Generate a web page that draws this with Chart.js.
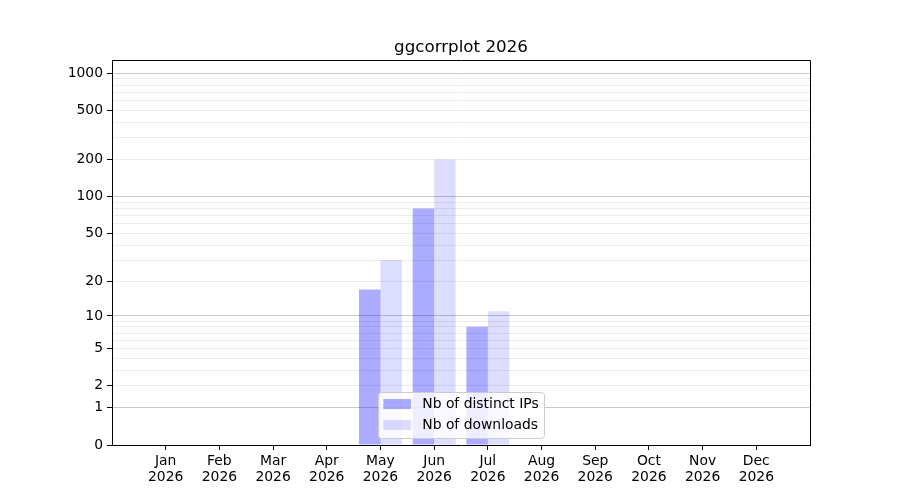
<!DOCTYPE html>
<html>
<head>
<meta charset="utf-8">
<title>ggcorrplot 2026</title>
<script src="https://cdn.jsdelivr.net/npm/chart.js@4/dist/chart.umd.min.js"></script>
<style>
  html, body { margin: 0; padding: 0; background: #fff; }
  #wrap { width: 900px; height: 500px; }
</style>
</head>
<body>
<div id="wrap"><canvas id="chart" width="900" height="500"></canvas></div>
<script>
// Data
const months = ['Jan', 'Feb', 'Mar', 'Apr', 'May', 'Jun', 'Jul', 'Aug', 'Sep', 'Oct', 'Nov', 'Dec'];
const year = '2026';
const distinctIPs = [0, 0, 0, 0, 17, 80, 8, 0, 0, 0, 0, 0];
const downloads = [0, 0, 0, 0, 30, 200, 11, 0, 0, 0, 0, 0];

// y axis ticks (log10(1 + x) scale)
const labeledTicks = [0, 1, 2, 5, 10, 20, 50, 100, 200, 500, 1000];
const majorTicks = [1, 10, 100, 1000];
const minorTicks = [3, 4, 6, 7, 8, 9, 30, 40, 60, 70, 80, 90, 300, 400, 600, 700, 800, 900];
const yMaxValue = 1274;

const toY = v => Math.log10(1 + v);
const fromY = y => Math.round(Math.pow(10, y) - 1);

const FONT = "'DejaVu Sans', sans-serif";

// title centred on the axes, plus top and right spines
const framePlugin = {
    id: 'frame',
    afterDraw(chart) {
        const { ctx, chartArea: a } = chart;
        ctx.save();
        ctx.strokeStyle = '#000';
        ctx.lineWidth = 1;
        ctx.beginPath();
        ctx.moveTo(Math.round(a.left) + 0.5, Math.round(a.top) + 0.5);
        ctx.lineTo(Math.round(a.right) + 0.5, Math.round(a.top) + 0.5);
        ctx.lineTo(Math.round(a.right) + 0.5, Math.round(a.bottom) + 0.5);
        ctx.stroke();

        ctx.fillStyle = '#000';
        ctx.font = '16.7px ' + FONT;
        ctx.textAlign = 'center';
        ctx.textBaseline = 'alphabetic';
        ctx.fillText('ggcorrplot ' + year, (a.left + a.right) / 2, a.top - 8.5);
        ctx.restore();
    }
};

// matplotlib-like legend, lower center inside the axes
const innerLegendPlugin = {
    id: 'innerLegend',
    afterDraw(chart) {
        const { ctx, chartArea: a } = chart;
        const fs = 13.9;
        const items = chart.data.datasets.map(ds => ({ text: ds.label, color: ds.backgroundColor }));
        ctx.save();
        ctx.font = fs + 'px ' + FONT;
        const textW = Math.max(...items.map(it => ctx.measureText(it.text).width));
        const pad = 0.4 * fs, handle = 2 * fs, gap = 0.8 * fs;
        const rowH = 21;
        const w = pad * 2 + handle + gap + textW;
        const h = 46;
        const x = (a.left + a.right) / 2 - w / 2;
        const y = a.bottom - 0.5 * fs - h;

        ctx.beginPath();
        ctx.roundRect(Math.round(x) + 0.5, Math.round(y) + 0.5, Math.round(w), Math.round(h), 3);
        ctx.fillStyle = 'rgba(255,255,255,0.8)';
        ctx.fill();
        ctx.strokeStyle = '#cccccc';
        ctx.lineWidth = 1;
        ctx.stroke();

        items.forEach((it, i) => {
            const cy = y + 12 + i * rowH;
            ctx.fillStyle = it.color;
            ctx.fillRect(x + pad, cy - 5, handle, 10);
            ctx.fillStyle = '#000';
            ctx.textBaseline = 'middle';
            ctx.textAlign = 'left';
            ctx.fillText(it.text, x + pad + handle + gap, cy);
        });
        ctx.restore();
    }
};

const yTickKind = {};
labeledTicks.forEach(v => { yTickKind[v] = 'label'; });
majorTicks.forEach(v => { yTickKind[v] = 'major'; });
minorTicks.forEach(v => { yTickKind[v] = 'minor'; });
const allYTicks = Object.keys(yTickKind).map(Number).sort((p, q) => p - q);

const ctx = document.getElementById('chart').getContext('2d');
const chart = new Chart(ctx, {
    type: 'bar',
    data: {
        datasets: [{
            label: 'Nb of distinct IPs',
            data: distinctIPs.map((v, i) => ({ x: i, y: toY(v) })),
            backgroundColor: 'rgba(0,0,255,0.33)',
            borderWidth: 0,
            categoryPercentage: 0.8,
            barPercentage: 1.0
        }, {
            label: 'Nb of downloads',
            data: downloads.map((v, i) => ({ x: i, y: toY(v) })),
            backgroundColor: 'rgba(0,0,255,0.135)',
            borderWidth: 0,
            categoryPercentage: 0.8,
            barPercentage: 1.0
        }]
    },
    options: {
        responsive: false,
        animation: false,
        devicePixelRatio: 1,
        layout: { padding: { top: 60, right: 90, bottom: 0, left: 0 } },
        plugins: {
            legend: { display: false },
            tooltip: { enabled: false },
            title: { display: false }
        },
        scales: {
            x: {
                type: 'linear',
                min: -1,
                max: 12,
                offset: false,
                afterBuildTicks(scale) {
                    scale.ticks = months.map((m, i) => ({ value: i }));
                },
                afterFit(scale) { scale.height = 55; },
                grid: {
                    offset: false,
                    drawOnChartArea: false,
                    tickLength: 5,
                    tickColor: '#000',
                    tickWidth: 1
                },
                border: { display: true, color: '#000', width: 1 },
                ticks: {
                    autoSkip: false,
                    maxRotation: 0,
                    padding: 3,
                    color: '#000',
                    font: { family: FONT, size: 13.9, lineHeight: 1.15 },
                    callback: v => [months[v], year]
                }
            },
            y: {
                type: 'linear',
                min: 0,
                max: toY(yMaxValue),
                afterBuildTicks(scale) {
                    scale.ticks = allYTicks.map(v => ({ value: toY(v) }));
                },
                afterFit(scale) { scale.width = 112; },
                grid: {
                    color: c => {
                        const k = yTickKind[fromY(c.tick.value)];
                        return k === 'major' ? '#cbcbcb' : '#ececec';
                    },
                    tickColor: c => yTickKind[fromY(c.tick.value)] === 'minor' ? 'rgba(0,0,0,0)' : '#000',
                    tickLength: 5,
                    lineWidth: 1
                },
                border: { display: true, color: '#000', width: 1 },
                ticks: {
                    autoSkip: false,
                    padding: 4,
                    color: '#000',
                    font: { family: FONT, size: 13.9 },
                    callback: v => {
                        const n = fromY(v);
                        return yTickKind[n] === 'minor' ? '' : String(n);
                    }
                }
            }
        }
    },
    plugins: [framePlugin, innerLegendPlugin]
});
</script>
</body>
</html>
